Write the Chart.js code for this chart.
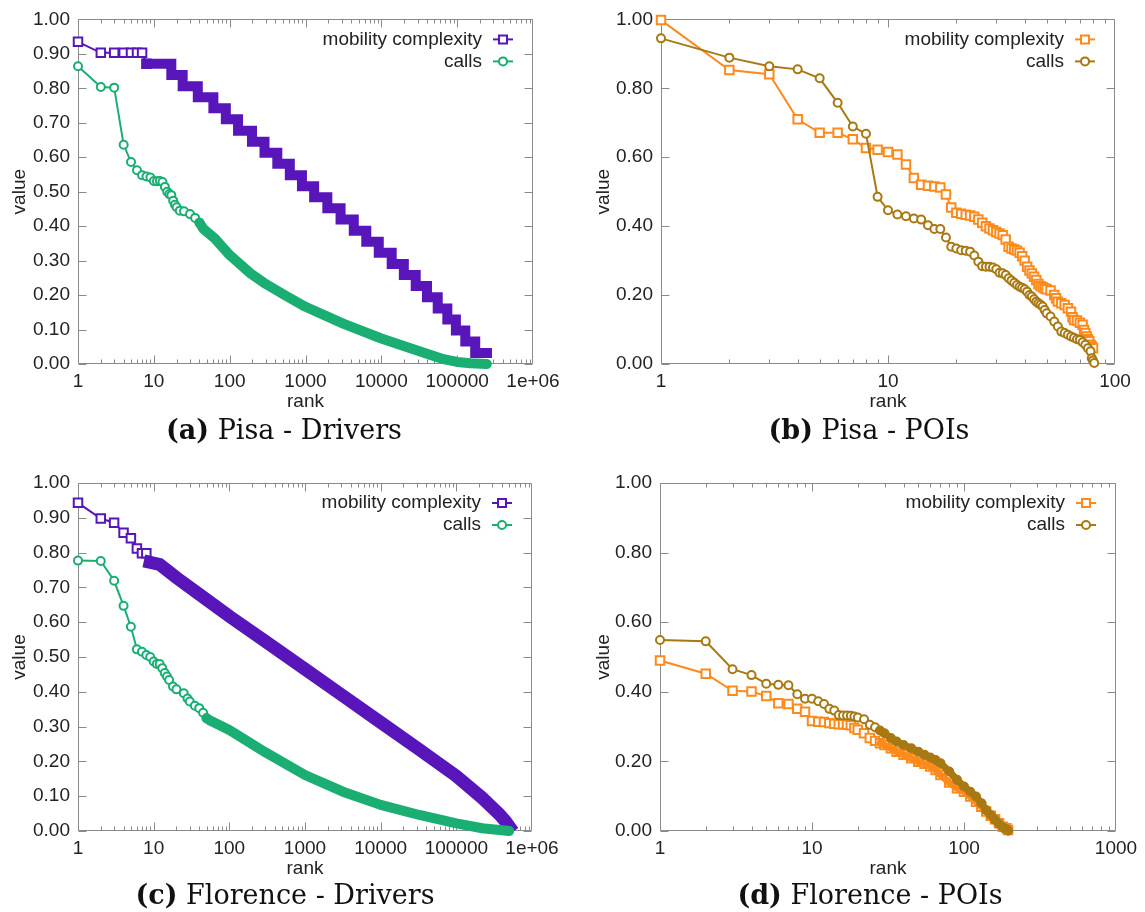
<!DOCTYPE html>
<html>
<head>
<meta charset="utf-8">
<script src="https://cdn.jsdelivr.net/npm/chart.js@4.4.1/dist/chart.umd.min.js"></script>
<style>
  body { margin: 0; background: #fff; width: 1145px; height: 912px; position: relative; overflow: hidden; }
  .panel { position: absolute; }
  .caption { position: absolute; width: 560px; text-align: center; font-family: 'DejaVu Serif', serif; font-size: 27px; line-height: 32px; color: #111; }
</style>
</head>
<body>
<div class="panel" style="left:0;top:0"><canvas id="pisaDrivers" width="572" height="420"></canvas></div>
<div class="panel" style="left:572px;top:0"><canvas id="pisaPois" width="573" height="420"></canvas></div>
<div class="panel" style="left:0;top:460px"><canvas id="florenceDrivers" width="572" height="427"></canvas></div>
<div class="panel" style="left:572px;top:460px"><canvas id="florencePois" width="573" height="427"></canvas></div>
<div class="caption" style="left:4px;top:414px"><b>(a)</b> Pisa - Drivers</div>
<div class="caption" style="left:589px;top:414px"><b>(b)</b> Pisa - POIs</div>
<div class="caption" style="left:5px;top:879px"><b>(c)</b> Florence - Drivers</div>
<div class="caption" style="left:590px;top:879px"><b>(d)</b> Florence - POIs</div>
<script>
// (a) Pisa - Drivers
const pisaDrvMcHead = [[1,0.935],[2,0.903],[3,0.903],[4,0.903],[5,0.903],[6,0.903],[7,0.903],[8,0.871]];
const pisaDrvStepLevels = [0.871,0.839,0.806,0.774,0.742,0.710,0.677,0.645,0.613,0.581,0.548,0.516,0.484,0.452,0.419,0.387,0.355,0.323,0.290,0.258,0.226,0.194,0.161,0.129,0.097,0.065,0.032];
const pisaDrvStepEdges = [8,17,24,38,61,89,129,197,288,425,621,898,1300,1940,2900,4330,6330,9250,13700,19800,28400,40000,55400,74200,96200,128000,173000,247000];
const pisaDrvCallsHead = [[1,0.864],[2,0.804],[3,0.802],[4,0.636],[5,0.586],[6,0.562],[7,0.548],[8,0.544],[9,0.541],[10,0.531],[11,0.530],[12,0.531],[13,0.528],[14,0.514],[15,0.500],[16,0.493],[17,0.490],[18,0.474],[19,0.462],[20,0.455],[22,0.445],[25,0.443],[30,0.435],[35,0.424],[40,0.410]];
const pisaDrvCallsTail = [[40,0.410],[45,0.392],[64,0.364],[100,0.316],[188,0.263],[300,0.232],[550,0.198],[1000,0.166],[3140,0.117],[10000,0.074],[29000,0.040],[66000,0.014],[100000,0.006],[150000,0.002],[246000,0.0]];

// (b) Pisa - POIs
const pisaPoiMc = [[1,0.998],[2,0.853],[3,0.841],[4,0.710],[5,0.671],[6,0.671],[7,0.652],[8,0.627],[9,0.622],[10,0.615],[11,0.608],[12,0.579],[13,0.540],[14,0.520],[15,0.517],[16,0.515],[17,0.512],[18,0.492],[19,0.454],[20,0.439],[21,0.436],[22,0.433],[23,0.431],[24,0.427],[25,0.419],[26,0.410],[27,0.400],[28,0.393],[29,0.388],[30,0.383],[31,0.379],[32,0.374],[33,0.361],[34,0.340],[35,0.335],[36,0.332],[37,0.329],[38,0.323],[39,0.313],[40,0.300],[41,0.282],[42,0.271],[43,0.263],[44,0.253],[45,0.244],[46,0.232],[47,0.226],[48,0.223],[49,0.219],[50,0.217],[52,0.213],[54,0.200],[55,0.191],[56,0.181],[58,0.176],[60,0.171],[62,0.162],[64,0.152],[65,0.136],[66,0.128],[68,0.126],[70,0.120],[72,0.114],[73,0.099],[74,0.090],[75,0.080],[76,0.072],[77,0.066],[78,0.056],[79,0.051],[80,0.046]];
const pisaPoiCalls = [[1,0.945],[2,0.889],[3,0.864],[4,0.855],[5,0.829],[6,0.758],[7,0.689],[8,0.668],[9,0.485],[10,0.446],[11,0.434],[12,0.429],[13,0.422],[14,0.419],[15,0.403],[16,0.392],[17,0.392],[18,0.367],[19,0.340],[20,0.335],[21,0.330],[22,0.329],[23,0.326],[24,0.315],[25,0.297],[26,0.284],[27,0.282],[28,0.282],[29,0.280],[30,0.275],[31,0.265],[32,0.263],[33,0.258],[34,0.249],[35,0.242],[36,0.236],[37,0.229],[38,0.224],[39,0.221],[40,0.217],[41,0.210],[42,0.200],[43,0.196],[44,0.188],[45,0.181],[46,0.176],[47,0.172],[48,0.167],[49,0.157],[50,0.147],[52,0.138],[54,0.123],[56,0.109],[58,0.094],[60,0.090],[62,0.085],[64,0.080],[66,0.076],[68,0.072],[70,0.070],[72,0.063],[74,0.056],[76,0.046],[78,0.037],[79,0.017],[80,0.010],[81,0.003]];

// (c) Florence - Drivers
const florDrvMcHead = [[1,0.943],[2,0.898],[3,0.886],[4,0.857],[5,0.841],[6,0.812],[7,0.798],[8,0.798],[9,0.772]];
const florDrvMcTail = [[9,0.772],[12,0.766],[20,0.728],[40,0.680],[100,0.617],[300,0.545],[1000,0.465],[3200,0.388],[10000,0.312],[32000,0.235],[100000,0.158],[220000,0.095],[370000,0.048],[450000,0.027],[500000,0.013]];
const florDrvCallsHead = [[1,0.777],[2,0.776],[3,0.719],[4,0.647],[5,0.587],[6,0.522],[7,0.515],[8,0.506],[9,0.500],[10,0.487],[11,0.480],[12,0.480],[13,0.468],[14,0.454],[15,0.444],[16,0.434],[18,0.415],[20,0.407],[25,0.396],[28,0.381],[30,0.372],[35,0.360],[40,0.353],[45,0.340],[50,0.324]];
const florDrvCallsTail = [[50,0.324],[54,0.319],[100,0.290],[305,0.225],[1000,0.161],[3170,0.113],[10000,0.075],[32500,0.046],[100000,0.022],[220000,0.008],[500000,0.0]];

// (d) Florence - POIs
const florPoiMc = [[1,0.490],[2,0.452],[3,0.403],[4,0.401],[5,0.388],[6,0.367],[7,0.365],[8,0.351],[9,0.343],[10,0.316],[11,0.314],[12,0.313],[13,0.310],[14,0.308],[15,0.307],[16,0.307],[17,0.305],[18,0.304],[19,0.296],[20,0.291],[22,0.281],[24,0.267],[26,0.259],[28,0.252],[30,0.247],[33,0.238],[36,0.228],[40,0.219],[45,0.209],[50,0.199],[55,0.193],[60,0.185],[65,0.175],[70,0.161],[80,0.139],[90,0.123],[100,0.113],[110,0.099],[120,0.084],[130,0.070],[140,0.056],[150,0.044],[160,0.034],[170,0.022],[180,0.012],[190,0.008],[195,0.003]];
const florPoiCalls = [[1,0.549],[2,0.545],[3,0.465],[4,0.448],[5,0.423],[6,0.420],[7,0.419],[8,0.393],[9,0.380],[10,0.380],[11,0.373],[12,0.365],[13,0.351],[14,0.346],[15,0.333],[16,0.332],[17,0.332],[18,0.331],[19,0.329],[20,0.326],[22,0.321],[24,0.305],[26,0.298],[28,0.289],[30,0.281],[33,0.267],[36,0.257],[40,0.247],[45,0.238],[50,0.228],[55,0.219],[60,0.211],[65,0.204],[70,0.195],[80,0.171],[90,0.147],[100,0.128],[110,0.113],[120,0.099],[130,0.080],[140,0.060],[150,0.046],[160,0.032],[170,0.020],[180,0.011],[190,0.005],[195,0.001]];
// from this rank on the POI markers merge into a solid band
const florPoiBandFrom = 28;

const driversXTicks = [1, 10, 100, 1000, 10000, 100000, 1000000];
const pisaPoiXTicks = [1, 10, 100];
const florPoiXTicks = [1, 10, 100, 1000];

const PURPLE = '#5816ba', GREEN = '#1aae72', ORANGE = '#ff8a1c', BROWN = '#a87812';
const FRAME = '#8a8a8a';

Chart.defaults.font.family = "'Liberation Sans', Arial, sans-serif";
Chart.defaults.font.size = 19;
Chart.defaults.color = '#222';

const pts = arr => arr.map(([x, y]) => ({x, y}));

function stepPoints(levels, edges) {
    const out = [];
    levels.forEach((v, i) => {
        out.push({x: edges[i], y: v}, {x: edges[i + 1], y: v});
    });
    return out;
}

// frame + inward ticks, gnuplot style
const frameTicks = {
    id: 'frameTicks',
    beforeDatasetsDraw(chart) {
        const {ctx, chartArea: a, scales: {x, y}} = chart;
        const L = Math.round(a.left) + 0.5, R = Math.round(a.right) - 0.5;
        const T = Math.round(a.top) + 0.5, B = Math.round(a.bottom) - 0.5;
        ctx.save();
        ctx.strokeStyle = FRAME;
        ctx.lineWidth = 1;
        ctx.beginPath();
        ctx.rect(L, T, R - L, B - T);
        y.ticks.forEach(t => {
            const py = Math.round(y.getPixelForValue(t.value)) + 0.5;
            ctx.moveTo(L, py); ctx.lineTo(L + 8, py);
            ctx.moveTo(R, py); ctx.lineTo(R - 8, py);
        });
        for (let d = 1; d < x.max; d *= 10) {
            for (let m = 1; m < 10; m++) {
                const v = m * d;
                if (v >= x.max) break;
                const px = Math.round(x.getPixelForValue(v)) + 0.5;
                const len = m === 1 ? 8 : 4;
                ctx.moveTo(px, B); ctx.lineTo(px, B - len);
                ctx.moveTo(px, T); ctx.lineTo(px, T + len);
            }
        }
        ctx.stroke();
        ctx.restore();
    }
};

// key in the top right corner, sample to the right of the text
const cornerKey = {
    id: 'cornerKey',
    afterDraw(chart, args, opts) {
        const {ctx, chartArea: a} = chart;
        ctx.save();
        opts.items.forEach((it, i) => {
            const yy = a.top + 20 + i * 22;
            ctx.font = "19px 'Liberation Sans', Arial, sans-serif";
            ctx.fillStyle = '#222';
            ctx.textAlign = 'right';
            ctx.textBaseline = 'middle';
            ctx.fillText(it.text, a.right - 51, yy);
            ctx.strokeStyle = it.color;
            ctx.lineWidth = 2;
            ctx.beginPath();
            ctx.moveTo(a.right - 40, yy); ctx.lineTo(a.right - 20, yy);
            ctx.stroke();
            const cx = a.right - 30;
            ctx.fillStyle = '#fff';
            ctx.beginPath();
            if (it.shape === 'rect') ctx.rect(cx - 4, yy - 4, 8, 8);
            else ctx.arc(cx, yy, 4, 0, Math.PI * 2);
            ctx.fill();
            ctx.stroke();
        });
        ctx.restore();
    }
};

function markerSet(data, color, shape, order) {
    return {
        data: pts(data),
        borderColor: color,
        borderWidth: 2,
        pointStyle: shape,
        pointRadius: shape === 'rect' ? 6 : 4,
        pointBorderWidth: 2,
        pointBorderColor: color,
        pointBackgroundColor: '#fff',
        tension: 0,
        clip: false,
        order
    };
}

function bandSet(data, color, width, cap, join, order) {
    return {
        data,
        borderColor: color,
        borderWidth: width,
        borderCapStyle: cap,
        borderJoinStyle: join,
        pointRadius: 0,
        tension: 0,
        clip: false,
        order
    };
}

function makePanel(id, o) {
    new Chart(document.getElementById(id), {
        type: 'line',
        data: {datasets: o.datasets},
        options: {
            responsive: false,
            animation: false,
            layout: {padding: {top: o.padTop, right: o.padRight, left: 0, bottom: 0}},
            scales: {
                x: {
                    type: 'logarithmic',
                    min: 1,
                    max: o.xTicks[o.xTicks.length - 1],
                    afterBuildTicks: s => { s.ticks = o.xTicks.map(v => ({value: v})); },
                    afterFit: s => { s.height = 56; },
                    grid: {display: false, drawTicks: false, tickLength: 0},
                    border: {display: false},
                    ticks: {
                        autoSkip: false,
                        maxRotation: 0,
                        padding: 6,
                        callback: v => v >= 1000000 ? '1e+06' : String(v)
                    },
                    title: {display: true, text: 'rank', padding: {top: 0, bottom: 7}}
                },
                y: {
                    type: 'linear',
                    min: 0,
                    max: 1,
                    afterFit: s => { s.width = o.yWidth; },
                    grid: {display: false, drawTicks: false, tickLength: 0},
                    border: {display: false},
                    ticks: {stepSize: o.yStep, padding: 8, callback: v => v.toFixed(2)},
                    title: {display: true, text: 'value', padding: {top: o.yTitlePad, bottom: 0}}
                }
            },
            plugins: {
                legend: {display: false},
                tooltip: {enabled: false},
                cornerKey: {items: o.key}
            }
        },
        plugins: [frameTicks, cornerKey]
    });
}

const driversKey = [
    {text: 'mobility complexity', color: PURPLE, shape: 'rect'},
    {text: 'calls', color: GREEN, shape: 'circle'}
];
const poisKey = [
    {text: 'mobility complexity', color: ORANGE, shape: 'rect'},
    {text: 'calls', color: BROWN, shape: 'circle'}
];

makePanel('pisaDrivers', {
    padTop: 17, padRight: 39, yWidth: 78, yTitlePad: 8, yStep: 0.1, xTicks: driversXTicks, key: driversKey,
    datasets: [
        markerSet(pisaDrvMcHead, PURPLE, 'rect', 4),
        bandSet(stepPoints(pisaDrvStepLevels, pisaDrvStepEdges), PURPLE, 10, 'square', 'miter', 3),
        markerSet(pisaDrvCallsHead, GREEN, 'circle', 2),
        bandSet(pts(pisaDrvCallsTail), GREEN, 10, 'round', 'round', 1)
    ]
});

makePanel('pisaPois', {
    padTop: 17, padRight: 30, yWidth: 89, yTitlePad: 20, yStep: 0.2, xTicks: pisaPoiXTicks, key: poisKey,
    datasets: [
        markerSet(pisaPoiMc, ORANGE, 'rect', 2),
        markerSet(pisaPoiCalls, BROWN, 'circle', 1)
    ]
});

makePanel('florenceDrivers', {
    padTop: 23, padRight: 40, yWidth: 78, yTitlePad: 8, yStep: 0.1, xTicks: driversXTicks, key: driversKey,
    datasets: [
        markerSet(florDrvMcHead, PURPLE, 'rect', 4),
        bandSet(pts(florDrvMcTail), PURPLE, 13, 'square', 'miter', 3),
        markerSet(florDrvCallsHead, GREEN, 'circle', 2),
        bandSet(pts(florDrvCallsTail), GREEN, 10, 'round', 'round', 1)
    ]
});

const tailOf = arr => pts(arr.filter(([r]) => r >= florPoiBandFrom));

makePanel('florencePois', {
    padTop: 23, padRight: 29, yWidth: 88, yTitlePad: 20, yStep: 0.2, xTicks: florPoiXTicks, key: poisKey,
    datasets: [
        markerSet(florPoiMc, ORANGE, 'rect', 4),
        bandSet(tailOf(florPoiMc), ORANGE, 7, 'round', 'round', 3),
        markerSet(florPoiCalls, BROWN, 'circle', 2),
        bandSet(tailOf(florPoiCalls), BROWN, 7, 'round', 'round', 1)
    ]
});
</script>
</body>
</html>
